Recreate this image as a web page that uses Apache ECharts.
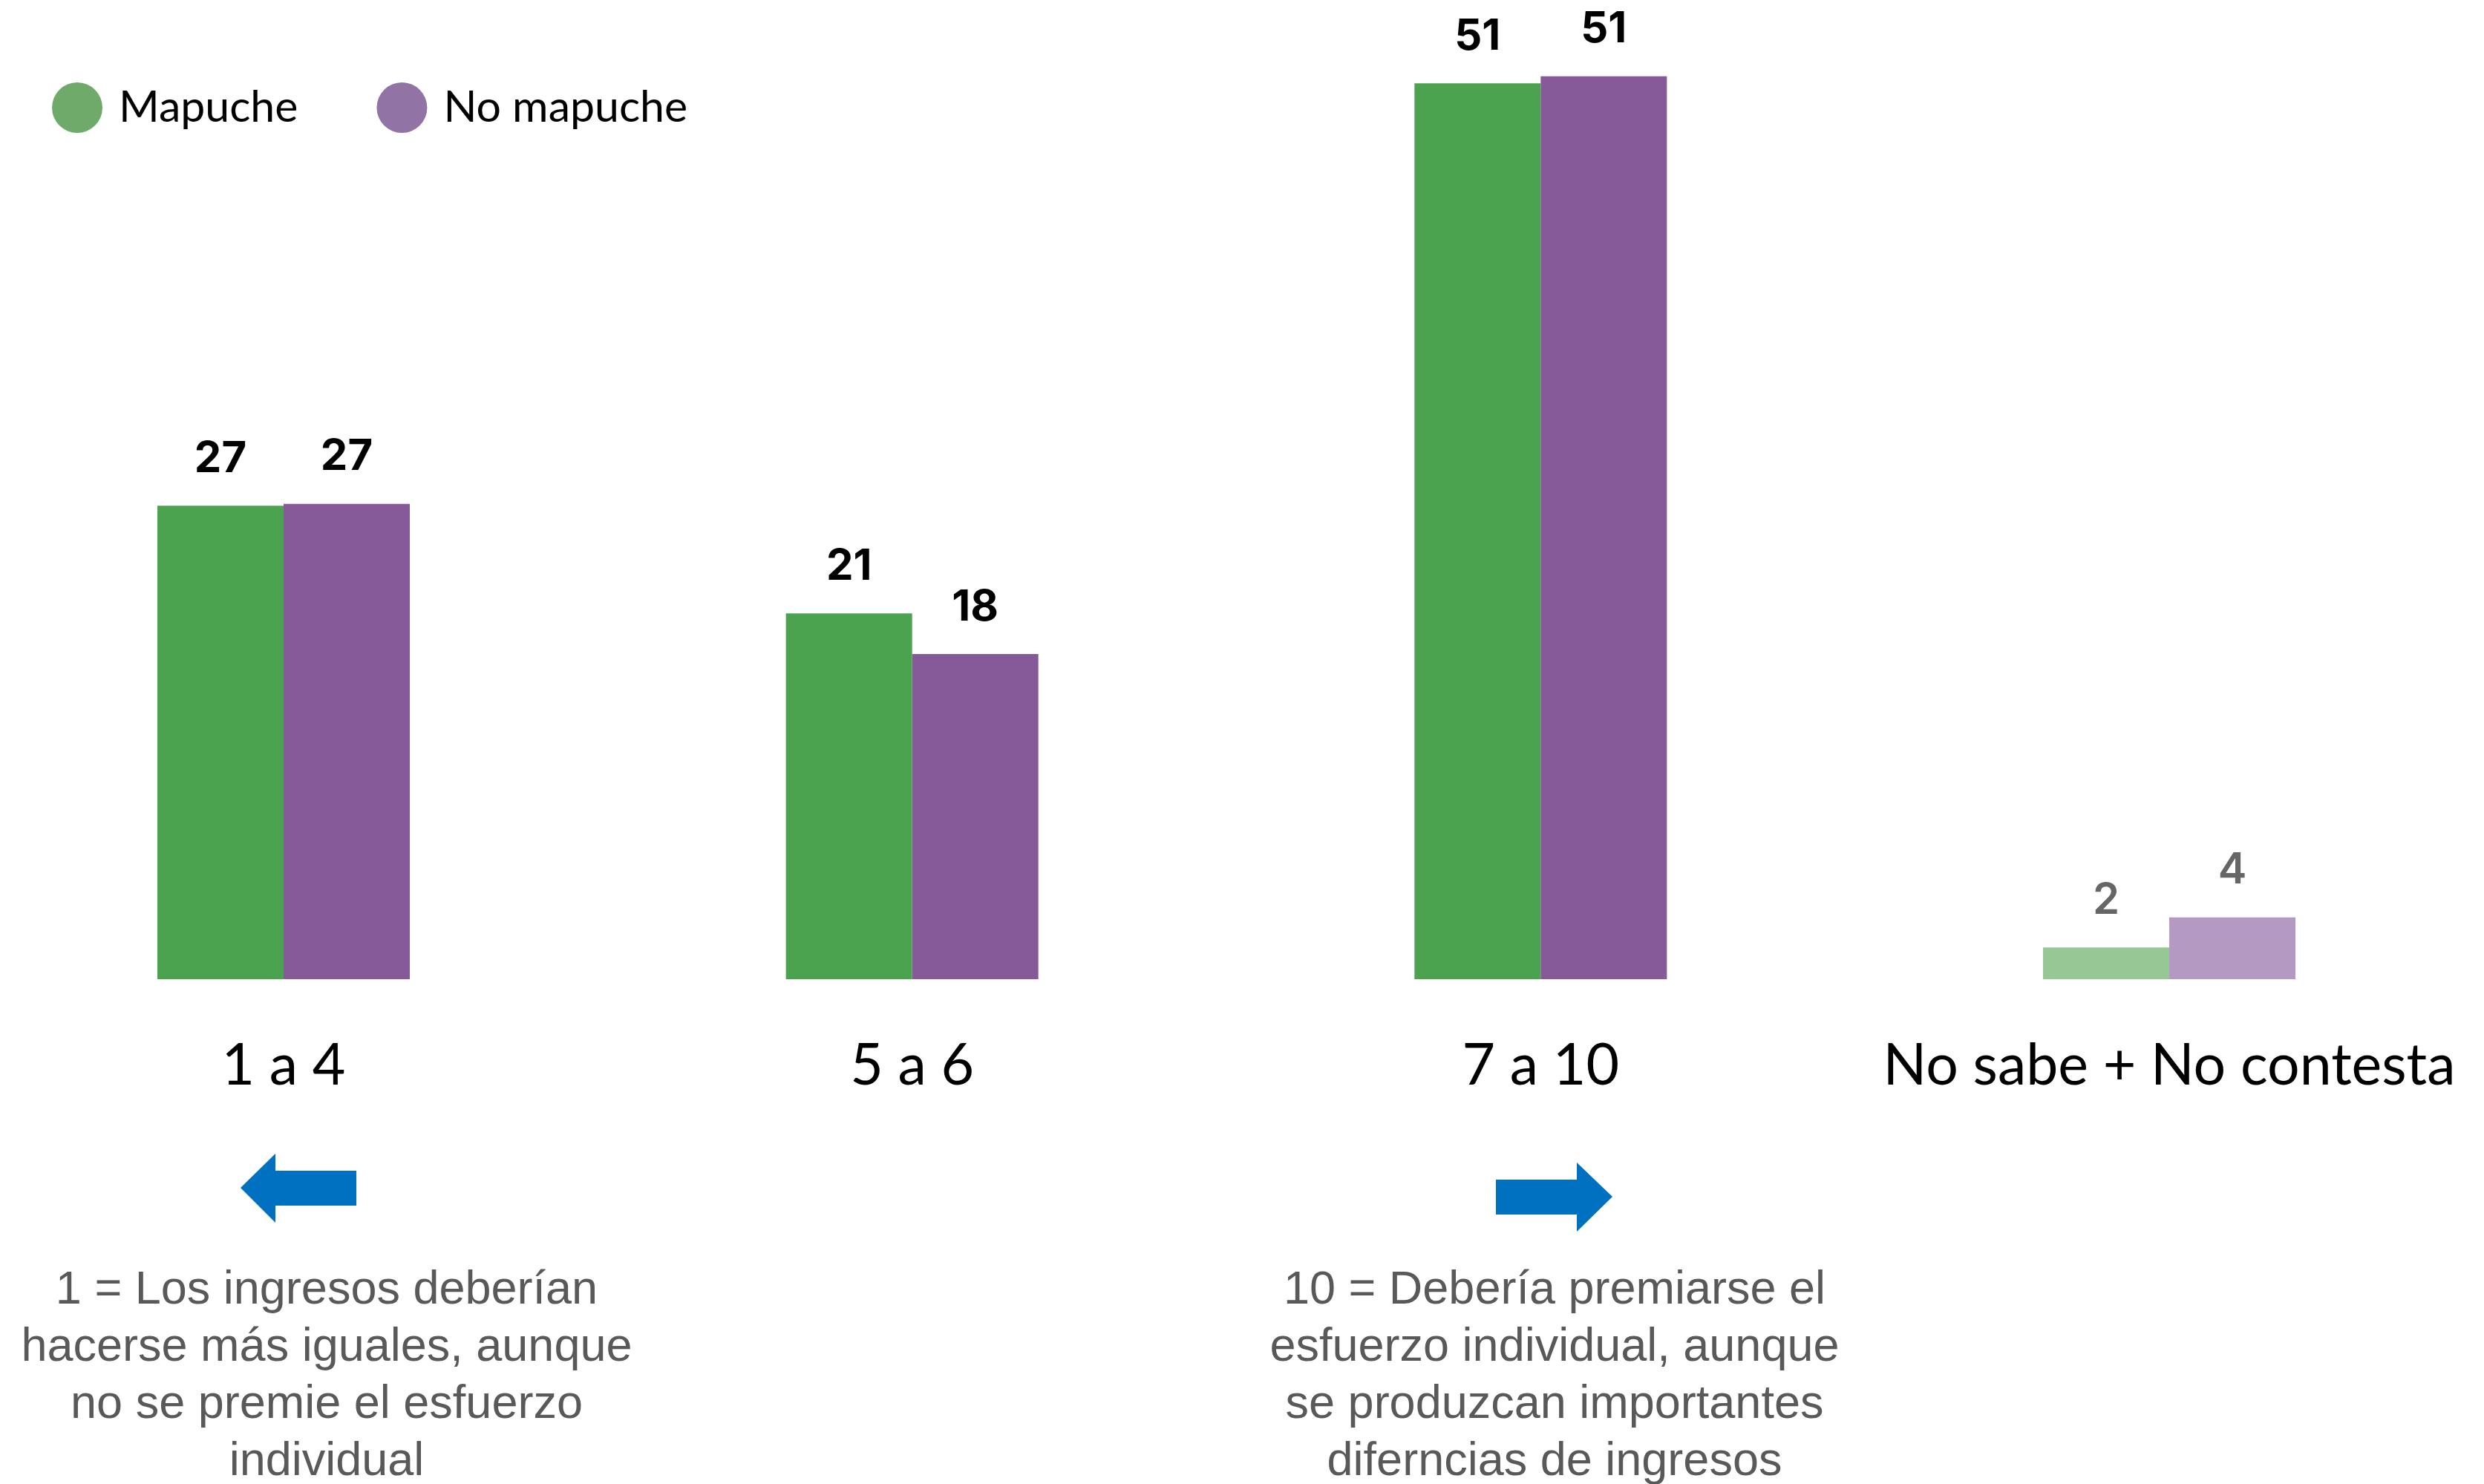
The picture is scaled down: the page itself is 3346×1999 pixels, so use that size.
<!DOCTYPE html>
<html>
<head>
<meta charset="utf-8">
<script src="https://cdn.jsdelivr.net/npm/echarts@6/dist/echarts.min.js"></script>
<style>
html,body{margin:0;padding:0;background:#fff;}
#chart{width:3346px;height:1999px;}
</style>
</head>
<body>
<div id="chart"></div>
<script>
const categories = ['1 a 4', '5 a 6', '7 a 10', 'No sabe + No contesta'];
const mapuche = [26.8, 20.7, 50.7, 1.8];
const noMapuche = [26.9, 18.4, 51.1, 3.5];
const seriesNames = ['Mapuche', 'No mapuche'];
const noteLeft = '1 = Los ingresos deberían\nhacerse más iguales, aunque\nno se premie el esfuerzo\nindividual';
const noteRight = '10 = Debería premiarse el\nesfuerzo individual, aunque\nse produzcan importantes\ndiferncias de ingresos';

const colors = {
  main: ['#4BA350', '#865A98'],
  light: ['#96C794', '#B499C2'],
  legend: ['#6FAA6A', '#9273A6']
};

function buildData(vals, idx) {
  return vals.map((v, i) => {
    const last = i === vals.length - 1;
    return {
      value: v,
      itemStyle: { color: last ? colors.light[idx] : colors.main[idx] },
      label: last ? { color: '#666666', fontWeight: 600 } : {}
    };
  });
}

const labelCfg = {
  show: true,
  position: 'top',
  distance: 34,
  fontFamily: 'Inter',
  fontSize: 58,
  fontWeight: 'bold',
  color: '#000',
  formatter: p => Math.round(p.value)
};

const chart = echarts.init(document.getElementById('chart'));
chart.setOption({
  backgroundColor: '#ffffff',
  animation: false,
  legend: {
    left: 65,
    top: 106,
    icon: 'circle',
    itemWidth: 68,
    itemHeight: 68,
    itemGap: 106,
    textStyle: { fontFamily: 'Lato', fontSize: 59, color: '#000', padding: [0, 0, 0, 17] },
    data: seriesNames.map((n, i) => ({ name: n, itemStyle: { color: colors.legend[i] } }))
  },
  grid: { left: 382, right: 424, top: 10, bottom: 680, containLabel: false },
  xAxis: {
    type: 'category',
    data: categories,
    boundaryGap: false,
    axisLine: { show: false },
    axisTick: { show: false },
    splitLine: { show: false },
    axisLabel: { margin: 79, fontFamily: 'Lato', fontSize: 77, color: '#000', interval: 0 }
  },
  yAxis: {
    type: 'value', min: 0, max: 55, show: false,
    splitLine: { show: false }
  },
  series: [
    { name: seriesNames[0], type: 'bar', barWidth: 170, barGap: '0%', data: buildData(mapuche, 0), label: labelCfg, itemStyle: { color: colors.main[0] } },
    { name: seriesNames[1], type: 'bar', barWidth: 170, barGap: '0%', data: buildData(noMapuche, 1), label: labelCfg, itemStyle: { color: colors.main[1] } }
  ],
  graphic: [
    { type: 'polygon', shape: { points: [[324,1600],[371,1554],[371,1577],[480,1577],[480,1624],[371,1624],[371,1647]] }, style: { fill: '#0070C0' } },
    { type: 'polygon', shape: { points: [[2172,1612],[2124,1566],[2124,1589],[2015,1589],[2015,1636],[2124,1636],[2124,1659]] }, style: { fill: '#0070C0' } },
    { type: 'text', x: 440, y: 1700, style: { text: noteLeft, align: 'center', verticalAlign: 'top', fontFamily: 'Liberation Sans', fontSize: 63, lineHeight: 77, fill: '#595959' } },
    { type: 'text', x: 2094, y: 1700, style: { text: noteRight, align: 'center', verticalAlign: 'top', fontFamily: 'Liberation Sans', fontSize: 63, lineHeight: 77, fill: '#595959' } }
  ]
});
</script>
</body>
</html>
